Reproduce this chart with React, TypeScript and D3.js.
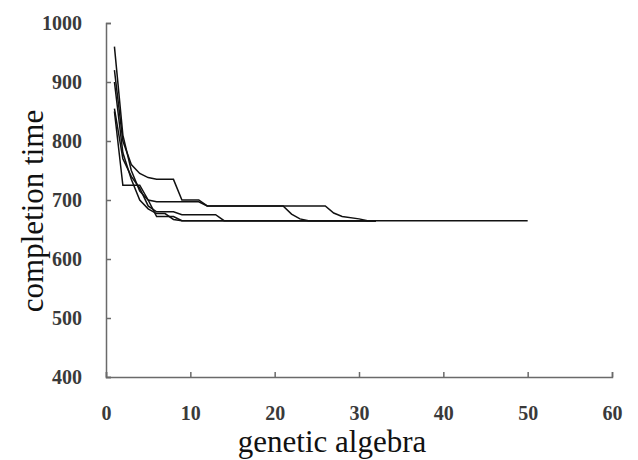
import * as d3 from 'd3';
import { useEffect, useRef } from 'react';

// five GA runs: [generation, best completion time]
const run1: [number, number][] = [
    [1, 920], [2, 800], [3, 760], [4, 745], [5, 738], [6, 735], [8, 735], [9, 700],
    [11, 700], [12, 690], [21, 690], [22, 676], [23, 668], [24, 665], [32, 665],
];
const run2: [number, number][] = [
    [1, 850], [2, 725], [4, 725], [5, 700], [6, 672], [8, 672], [9, 665], [32, 665],
];
const run3: [number, number][] = [
    [1, 960], [2, 810], [3, 750], [4, 715], [5, 700], [6, 697], [11, 697], [12, 690],
    [26, 690], [27, 678], [28, 672], [30, 668], [31, 665], [50, 665],
];
const run4: [number, number][] = [
    [1, 900], [2, 780], [3, 735], [4, 700], [5, 685], [6, 677], [7, 677], [8, 667],
    [9, 665], [32, 665],
];
const run5: [number, number][] = [
    [1, 855], [2, 770], [3, 740], [4, 720], [5, 690], [6, 680], [8, 680], [9, 675],
    [13, 675], [14, 665], [32, 665],
];
const runs = [run1, run2, run3, run4, run5];

const xTicks = [0, 10, 20, 30, 40, 50, 60];
const yTicks = [400, 500, 600, 700, 800, 900, 1000];

function App() {
    const svgRef = useRef<SVGSVGElement>(null);

    useEffect(() => {
        const w = 638;
        const h = 460;
        const left = 106;
        const right = 612;
        const top = 23;
        const bottom = 377;

        const svg = d3.select(svgRef.current).attr('width', w).attr('height', h);
        svg.selectAll('*').remove();

        const x = d3.scaleLinear().domain([0, 60]).range([left, right]);
        const y = d3.scaleLinear().domain([400, 1000]).range([bottom, top]);

        const xAxis = d3
            .axisBottom(x)
            .tickValues(xTicks)
            .tickFormat(d3.format('d'))
            .tickSize(-5)
            .tickSizeOuter(-5)
            .tickPadding(29);
        const yAxis = d3
            .axisLeft(y)
            .tickValues(yTicks)
            .tickFormat(d3.format('d'))
            .tickSize(-5)
            .tickSizeOuter(-5)
            .tickPadding(24);

        const gx = svg.append('g').attr('transform', `translate(0,${bottom})`).call(xAxis);
        const gy = svg.append('g').attr('transform', `translate(${left},0)`).call(yAxis);

        [gx, gy].forEach((g) => {
            g.selectAll('path, line').attr('stroke', '#6a6a6a').attr('stroke-width', 1.5);
            g.selectAll('text')
                .attr('fill', '#3a3a3a')
                .style('font-family', '"Liberation Serif", "Times New Roman", serif')
                .style('font-size', '20px')
                .style('font-weight', 'bold');
        });

        const line = d3
            .line<[number, number]>()
            .x((d) => x(d[0]))
            .y((d) => y(d[1]));

        svg.append('g')
            .selectAll('path')
            .data(runs)
            .enter()
            .append('path')
            .attr('d', (d) => line(d))
            .attr('fill', 'none')
            .attr('stroke', '#111')
            .attr('stroke-width', 1.5);

        svg.append('text')
            .attr('x', 332)
            .attr('y', 452)
            .style('text-anchor', 'middle')
            .style('font-family', '"Liberation Serif", "Times New Roman", serif')
            .style('font-size', '31px')
            .attr('fill', '#111')
            .text('genetic algebra');

        svg.append('text')
            .attr('transform', 'rotate(-90)')
            .attr('x', -211)
            .attr('y', 43)
            .style('text-anchor', 'middle')
            .style('font-family', '"Liberation Serif", "Times New Roman", serif')
            .style('font-size', '31px')
            .attr('fill', '#111')
            .text('completion time');
    }, []);

    return <svg ref={svgRef} style={{ position: 'absolute', left: 0, top: 0 }}></svg>;
}

export default App;
